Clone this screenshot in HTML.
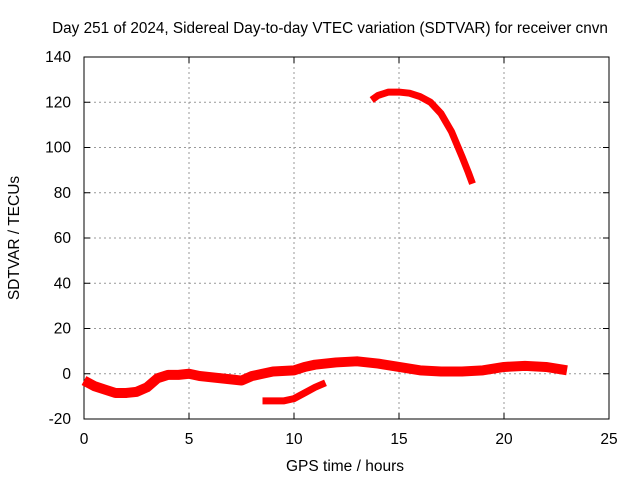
<!DOCTYPE html>
<html><head><meta charset="utf-8"><style>
body{margin:0;background:#fff}
svg text{font-family:"Liberation Sans",sans-serif;font-size:15.5px;fill:#000}
</style></head><body>
<svg id="chart" width="640" height="480">
<text x="330" y="33" text-anchor="middle" style="font-size:15.3px">Day 251 of 2024, Sidereal Day-to-day VTEC variation (SDTVAR) for receiver cnvn</text>
<text x="345" y="471" text-anchor="middle">GPS time / hours</text>
<text transform="translate(19,238) rotate(-90)" text-anchor="middle">SDTVAR / TECUs</text>
<g id="grid"></g><g id="axes"></g><g id="series"></g>
</svg>
<script>
const xTicks=[0,5,10,15,20,25];
const yTicks=[-20,0,20,40,60,80,100,120,140];
const mainHours=[0,0.5,1,1.5,2,2.5,3,3.5,4,4.5,5,5.5,6,6.5,7,7.5,8,8.5,9,10,10.5,11,12,13,14,15,16,17,18,19,20,21,22,23];
const mainValues=[-3,-5.5,-7,-8.5,-8.5,-8,-6,-2,-0.5,-0.5,0,-1,-1.5,-2,-2.5,-3,-1,0,1,1.5,3,4,5,5.5,4.5,3,1.5,1,1,1.5,3,3.5,3,1.5];
const lowHours=[8.5,9,9.5,10,10.5,11,11.5];
const lowValues=[-12,-12,-12,-11,-8.5,-6,-4];
const arcHours=[13.7,14,14.5,15,15.5,16,16.5,17,17.5,18,18.3,18.5];
const arcValues=[121,123,124.5,124.5,124,122.5,120,115,107,96,89,84];
const X0=84,X1=609,Y0=419,Y1=57;
const xs=v=>X0+(v-0)/25*(X1-X0);
const ys=v=>Y0-(v+20)/160*(Y0-Y1);
const NS='http://www.w3.org/2000/svg';
function mk(t,a,p){const e=document.createElementNS(NS,t);for(const k in a)e.setAttribute(k,a[k]);p.appendChild(e);return e;}
const grid=document.getElementById('grid'),axes=document.getElementById('axes'),ser=document.getElementById('series');
xTicks.forEach(t=>{const x=xs(t);
 if(t>0&&t<25){const g=mk('line',{x1:x,x2:x,y1:Y0,y2:Y1,stroke:'#999','stroke-dasharray':'2,3'},grid);
 
 }
 mk('line',{x1:x,x2:x,y1:Y0,y2:Y0-6,stroke:'#000'},axes);mk('line',{x1:x,x2:x,y1:Y1,y2:Y1+6,stroke:'#000'},axes);
 const tx=mk('text',{x:x,y:Y0+25,'text-anchor':'middle'},axes);tx.textContent=t;
 
 });
yTicks.forEach(t=>{const y=ys(t);
 if(t>-20&&t<140){const g=mk('line',{x1:X0,x2:X1,y1:y,y2:y,stroke:'#999','stroke-dasharray':'2,3'},grid);
 
 }
 mk('line',{x1:X0,x2:X0+6,y1:y,y2:y,stroke:'#000'},axes);mk('line',{x1:X1,x2:X1-6,y1:y,y2:y,stroke:'#000'},axes);
 const tx=mk('text',{x:X0-13,y:y+5,'text-anchor':'end'},axes);tx.textContent=t;
 
 });
const fr=mk('rect',{x:X0,y:Y1,width:X1-X0,height:Y0-Y1,fill:'none',stroke:'#000'},axes);


function series(h,v,w,name){const pts=h.map((t,i)=>xs(t)+','+ys(v[i])).join(' ');
 const p=mk('polyline',{points:pts,fill:'none',stroke:'#f00','stroke-width':w,'stroke-linejoin':'round'},ser);
 
 }
series(mainHours,mainValues,10,'sdtvar-main-series');
series(lowHours,lowValues,7,'sdtvar-low-series');
series(arcHours,arcValues,7,'sdtvar-arc-series');
</script>
</body></html>
